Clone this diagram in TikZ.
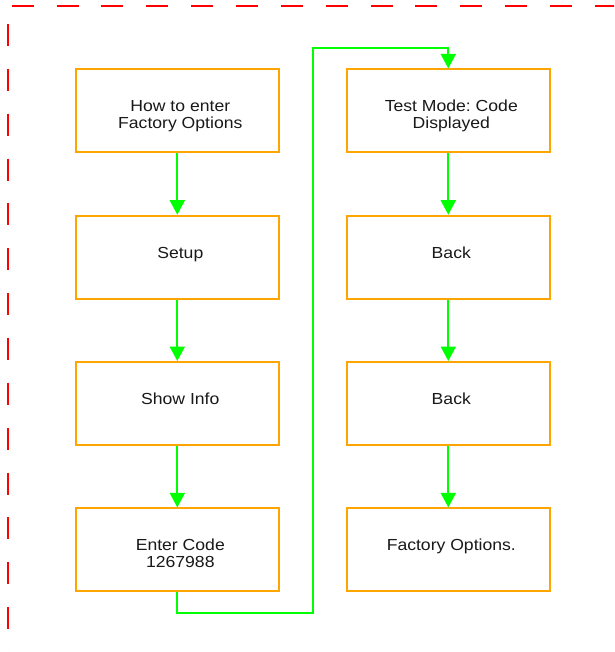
\documentclass[tikz,border=0pt]{standalone}
\usepackage{fontspec}
\setmainfont{Liberation Sans}[FakeStretch=1.1]
\usetikzlibrary{arrows.meta}
\definecolor{boxorange}{HTML}{FFA500}
\definecolor{flowgreen}{HTML}{00FF00}
\definecolor{frame}{HTML}{FF0000}
\frenchspacing
% box text with zero size, moved up or down by #1 and a little to the right
\newcommand\boxtext[2]{\raisebox{#1}[0pt][0pt]{\begin{tabular}{@{\hspace{6pt}}c@{}}#2\end{tabular}}}
\tikzset{
  stepbox/.style={draw=boxorange, line width=1.8pt, minimum width=203pt,
    minimum height=83pt, inner sep=0pt, align=center,
    font=\fontsize{16}{17}\selectfont, text=black!90},
  flow/.style={draw=flowgreen, line width=2pt,
    -{Triangle[width=15pt,length=14.5pt]}},
  framedash/.style={draw=frame, line width=2.4pt, dash pattern=on 22pt off 22.85pt}
}
\begin{document}
\begin{tikzpicture}[x=1pt,y=-1pt]
  \clip (0,0) rectangle (614,652);
  \fill[white] (0,0) rectangle (614,652);
  % dashed frame along top and left edges
  \draw[framedash] (11.7,6.3) -- (660,6.3);
  \draw[framedash] (8,24) -- (8,700);
  % left column
  \node[stepbox] (howto) at (177.3,110.8) {\boxtext{-10pt}{How to enter\\Factory Options}};
  \node[stepbox] (setup) at (177.3,257.1) {\boxtext{-2pt}{Setup}};
  \node[stepbox] (info)  at (177.3,403.4) {\boxtext{-2pt}{Show Info}};
  \node[stepbox] (code)  at (177.3,549.8) {\boxtext{-10pt}{Enter Code\\1267988}};
  % right column
  \node[stepbox] (test)  at (448.3,110.8) {\boxtext{-10pt}{Test Mode: Code\\Displayed}};
  \node[stepbox] (back1) at (448.3,257.1) {\boxtext{-2pt}{Back}};
  \node[stepbox] (back2) at (448.3,403.4) {\boxtext{-2pt}{Back}};
  \node[stepbox] (fact)  at (448.3,549.8) {\boxtext{-2pt}{Factory Options.}};
  % connectors
  \draw[flow] (howto) -- (setup);
  \draw[flow] (setup) -- (info);
  \draw[flow] (info) -- (code);
  \draw[flow] (code.south) -- ++(0,21) -| (313,48.3) -| (test.north);
  \draw[flow] (test) -- (back1);
  \draw[flow] (back1) -- (back2);
  \draw[flow] (back2) -- (fact);
\end{tikzpicture}
\end{document}
